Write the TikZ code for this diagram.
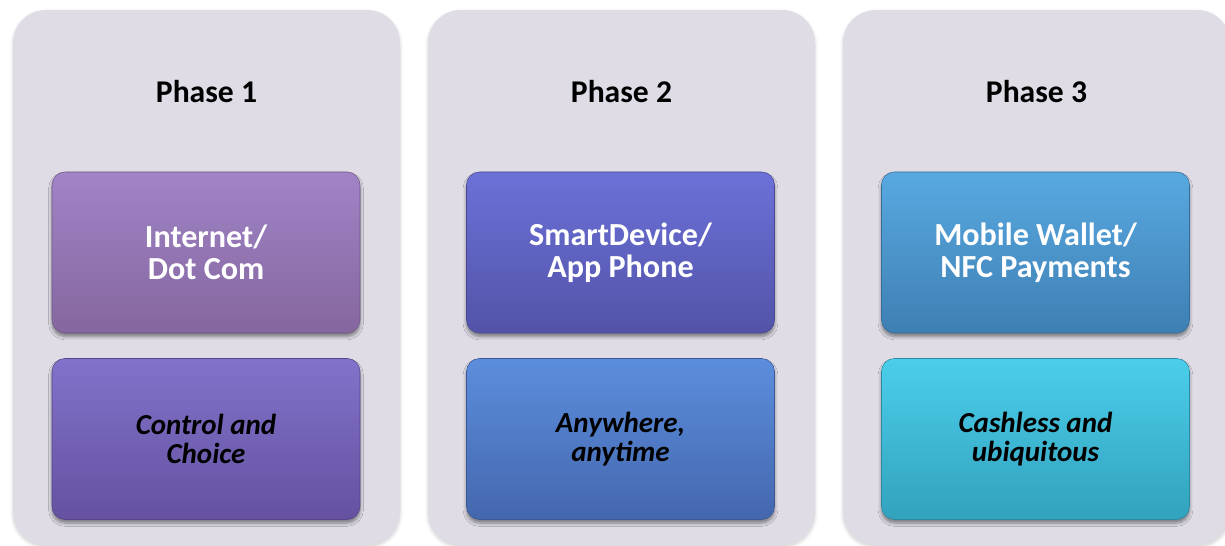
\documentclass[tikz,border=0pt]{standalone}
\usepackage{fontspec}
\setmainfont{Carlito}
\usetikzlibrary{shadows.blur}

\definecolor{panelgray}{HTML}{DFDCE6}
\definecolor{purpleA}{HTML}{A084C6}
\definecolor{purpleB}{HTML}{85669F}
\definecolor{violetA}{HTML}{8272CA}
\definecolor{violetB}{HTML}{6551A0}
\definecolor{indigoA}{HTML}{6C71D8}
\definecolor{indigoB}{HTML}{5253A8}
\definecolor{blueA}{HTML}{5C8EDD}
\definecolor{blueB}{HTML}{4467AE}
\definecolor{skyA}{HTML}{58A9E1}
\definecolor{skyB}{HTML}{3E7FB3}
\definecolor{cyanA}{HTML}{4BCEEB}
\definecolor{cyanB}{HTML}{32A2BD}

\tikzset{
  panel/.style={rectangle, rounded corners=0.66cm, fill=panelgray, minimum width=7.74cm, minimum height=10.7cm,
    blur shadow={shadow xshift=0pt, shadow yshift=-0.04cm, shadow opacity=18, shadow blur steps=6}},
  phase/.style={font=\fontsize{18}{20}\selectfont\bfseries},
  stage/.style={rectangle, rounded corners=0.26cm, minimum width=6.16cm, minimum height=3.22cm, align=center,
    text=white, font=\fontsize{18.3}{18.2}\selectfont\bfseries,
    blur shadow={shadow xshift=0pt, shadow yshift=-0.07cm, shadow opacity=45, shadow blur steps=5}},
  motto/.style={stage, text=black, font=\fontsize{16.5}{16.6}\selectfont\bfseries\itshape},
}

\begin{document}
\begin{tikzpicture}
  \useasboundingbox (0,0) rectangle (24.5,-10.92);
  \clip (0,0) rectangle (24.5,-10.92);

  % panels
  \node[panel] (P1) at (4.13,-5.55) {};
  \node[panel] (P2) at (12.43,-5.55) {};
  \node[panel] (P3) at (20.73,-5.55) {};

  \node[phase] (T1) at (4.13,-1.84) {Phase 1};
  \node[phase] (T2) at (12.43,-1.84) {Phase 2};
  \node[phase] (T3) at (20.73,-1.84) {Phase 3};

  % top row
  \node[stage, top color=purpleA, bottom color=purpleB, draw=purpleB!85!black, line width=0.3pt] (A1) at (4.12,-5.05) {Internet/\\Dot Com};
  \node[stage, top color=indigoA, bottom color=indigoB, draw=indigoB!85!black, line width=0.3pt] (A2) at (12.41,-5.05) {SmartDevice/\\App Phone};
  \node[stage, top color=skyA, bottom color=skyB, draw=skyB!85!black, line width=0.3pt] (A3) at (20.71,-5.05) {Mobile Wallet/\\NFC Payments};

  % bottom row
  \node[motto, top color=violetA, bottom color=violetB, draw=violetB!85!black, line width=0.3pt] (B1) at (4.12,-8.78) {Control and\\Choice};
  \node[motto, top color=blueA, bottom color=blueB, draw=blueB!85!black, line width=0.3pt] (B2) at (12.41,-8.78) {Anywhere,\\anytime};
  \node[motto, top color=cyanA, bottom color=cyanB, draw=cyanB!85!black, line width=0.3pt] (B3) at (20.71,-8.78) {Cashless and\\ubiquitous};
\end{tikzpicture}
\end{document}
